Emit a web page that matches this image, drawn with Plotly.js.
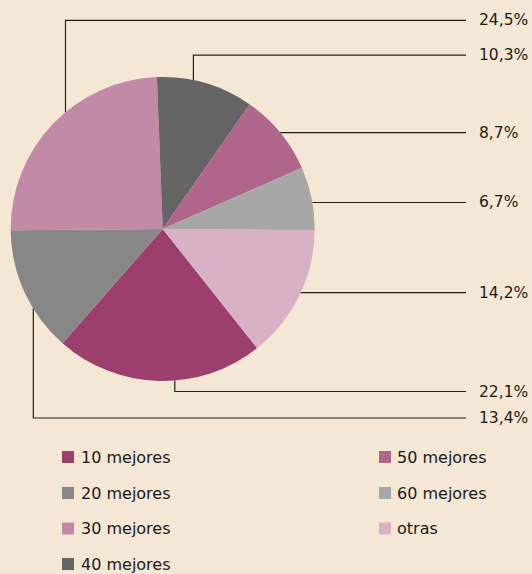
<!DOCTYPE html>
<html>
<head>
<meta charset="utf-8">
<script src="https://cdn.plot.ly/plotly-3.0.1.min.js"></script>
<style>
  html, body { margin: 0; padding: 0; background: #f4e7d3; }
  #chart { width: 532px; height: 574px; }
</style>
</head>
<body>
<div id="chart"></div>
<script>
// ---- data ----
const categories = ['10 mejores', '20 mejores', '30 mejores', '40 mejores', '50 mejores', '60 mejores', 'otras'];
const shares = [22.1, 13.4, 24.5, 10.3, 8.7, 6.7, 14.2];
const colors = ['#9c3f6d', '#878787', '#c38aa7', '#656565', '#b0668a', '#a7a7a7', '#d8b1c6'];

// ---- layout constants (pixels) ----
const W = 532, H = 574;
const CX = 162.7, CY = 229, R = 152;         // pie geometry
const ROTATION = 141.6;                      // start angle of first slice
const LINE_END_X = 466, LABEL_X = 476.5;
// leader routing per category: leg x for vertical legs (null = straight horizontal), label row y
const leaderLegX = [174.8, 33.3, 65.5, 193.4, null, null, null];
const leaderLabelY = [391.5, 418, 20.4, 55.2, 132.7, 202.5, 292.6];
// legend grid
const legendCols = [{sq: 62, tx: 78.5}, {sq: 379, tx: 395}];
const legendRows = [457, 493, 528.5, 564];
const legendPerCol = 4;
const FONT = 'DejaVu Sans, sans-serif';
const TEXT_COLOR = '#1b1b1b';

const px = x => x / W;
const py = y => 1 - y / H;
const fmt = v => v.toFixed(1).replace('.', ',') + '%';

const shapes = [];
const annotations = [];

// leader lines + value labels
shares.forEach((v, i) => {
  const ly = leaderLabelY[i];
  let path;
  if (leaderLegX[i] === null) {
    const dy = ly - CY;
    const ax = CX + Math.sqrt(R * R - dy * dy);
    path = `M ${px(ax)} ${py(ly)} L ${px(LINE_END_X)} ${py(ly)}`;
  } else {
    const lx = leaderLegX[i];
    const dx = lx - CX;
    const h = Math.sqrt(R * R - dx * dx);
    const ay = ly < CY ? CY - h : CY + h;
    path = `M ${px(lx)} ${py(ay)} L ${px(lx)} ${py(ly)} L ${px(LINE_END_X)} ${py(ly)}`;
  }
  shapes.push({type: 'path', xref: 'paper', yref: 'paper', path: path,
    line: {color: '#222222', width: 1.2}});
  annotations.push({xref: 'paper', yref: 'paper', x: px(LABEL_X), y: py(ly),
    xanchor: 'left', yanchor: 'middle', showarrow: false, text: fmt(v),
    font: {family: FONT, size: 15.5, color: TEXT_COLOR}});
});

// manual legend (two columns, column-major)
categories.forEach((c, i) => {
  const col = legendCols[Math.floor(i / legendPerCol)];
  const yc = legendRows[i % legendPerCol];
  shapes.push({type: 'rect', xref: 'paper', yref: 'paper',
    x0: px(col.sq), x1: px(col.sq + 12), y0: py(yc - 6), y1: py(yc + 6),
    fillcolor: colors[i], line: {width: 0}});
  annotations.push({xref: 'paper', yref: 'paper', x: px(col.tx), y: py(yc),
    xanchor: 'left', yanchor: 'middle', showarrow: false, text: c,
    font: {family: FONT, size: 16, color: TEXT_COLOR}});
});

const trace = {
  type: 'pie',
  labels: categories,
  values: shares,
  sort: false,
  direction: 'clockwise',
  rotation: ROTATION,
  marker: {colors: colors, line: {width: 0}},
  textinfo: 'none',
  hoverinfo: 'label+percent',
  showlegend: false,
  domain: {x: [px(CX - R), px(CX + R)], y: [py(CY + R), py(CY - R)]}
};

const layout = {
  width: W, height: H,
  margin: {l: 0, r: 0, t: 0, b: 0},
  paper_bgcolor: '#f4e7d3',
  plot_bgcolor: '#f4e7d3',
  showlegend: false,
  shapes: shapes,
  annotations: annotations,
  font: {family: FONT}
};

Plotly.newPlot('chart', [trace], layout, {displayModeBar: false, staticPlot: true});
</script>
</body>
</html>
